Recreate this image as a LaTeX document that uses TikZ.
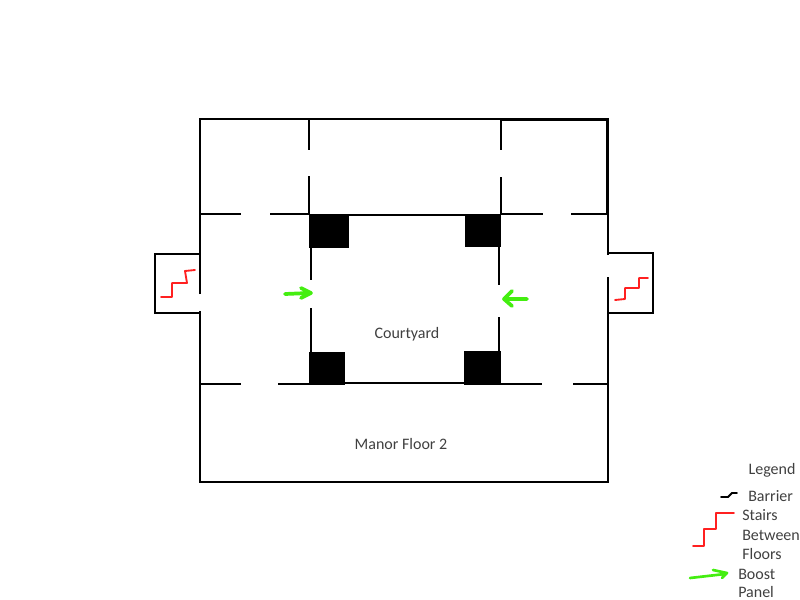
\documentclass[tikz,border=0pt]{standalone}
\usepackage{fontspec}
\setmainfont{Carlito}
\definecolor{txt}{HTML}{404040}
\definecolor{boost}{HTML}{44EE10}
\definecolor{stair}{HTML}{FF2020}
\tikzset{
  wall/.style={draw=black,line width=1.9pt,line cap=butt},
  thin wall/.style={draw=black,line width=1.7pt},
  pillar/.style={fill=black},
  stairs/.style={draw=stair,line width=1.4pt,line join=round,line cap=round},
  boostline/.style={draw=boost,line width=2.8pt,line join=round,line cap=round},
  label/.style={text=txt,font=\fontsize{12}{14}\selectfont,inner sep=0pt},
  lefttext/.style={label,anchor=west}
}
\begin{document}
\begin{tikzpicture}[x=0.75pt,y=-0.75pt]
\useasboundingbox (0,0) rectangle (800,600);
% pillars
\fill[pillar] (309,215) rectangle (349,248);
\fill[pillar] (465,215) rectangle (501,247);
\fill[pillar] (309,352) rectangle (345,385);
\fill[pillar] (464,351) rectangle (501,385);
% outer walls
\draw[wall] (200,294) -- (200,119) -- (608,119) -- (608,255);
\draw[wall] (501,120) -- (608,120);
\draw[wall] (607,120) -- (607,214);
\draw[wall] (608,277) -- (608,482) -- (200,482) -- (200,311);
% stair rooms
\draw[wall] (200,254) -- (155,254) -- (155,313) -- (200,313);
\draw[wall] (608,253) -- (653,253) -- (653,313) -- (608,313);
% inner walls
\draw[wall] (200,214) -- (241,214) (270,214) -- (310,214);
\draw[wall] (200,384) -- (241,384) (278,384) -- (310,384);
\draw[wall] (501,214) -- (543,214) (571,214) -- (608,214);
\draw[wall] (501,384) -- (542,384) (573,384) -- (608,384);
\draw[wall] (309,119) -- (309,150) (309,176) -- (309,214);
\draw[wall] (501,119) -- (501,150) (501,177) -- (501,214);
% courtyard
\draw[thin wall] (310,215) -- (501,215);
\draw[thin wall] (310,383) -- (501,383);
\draw[thin wall] (311,247) -- (311,280) (311,308) -- (311,352);
\draw[thin wall] (499,247) -- (499,285) (499,317) -- (499,352);
% stairs
\draw[stairs] (161,297) -- (172,297) -- (172,283) -- (187,283) -- (185,271) -- (195,270);
\draw[stairs] (615,300) -- (625,299) -- (625,288) -- (639,288) -- (639,278) -- (648,278);
% boost panels
\draw[boostline] (285,294) -- (309,293) (301,288) -- (311,293) -- (301,298);
\draw[boostline] (504,299) -- (527,299) (512,291) -- (504,299) -- (512,306);
\draw[boostline,line width=2pt] (690,578) -- (725,574) (713,570) -- (727,573) -- (722,578);
% legend symbols
\draw[draw=black,line width=1.4pt,line cap=round] (721,497) -- (728,497) -- (732,493) -- (737,493);
\draw[stairs] (693,546) -- (704,546) -- (704,529) -- (716,529) -- (716,513) -- (734,513);
% labels
\node[label] (courtyard) at (407,334) {Courtyard};
\node[label] (manor) at (401,444) {Manor Floor 2};
\node[label] (legend) at (772,470) {Legend};
\node[lefttext] (barrier) at (748,496) {Barrier};
\node[lefttext] (st) at (742,515) {Stairs};
\node[lefttext] (between) at (742,535) {Between};
\node[lefttext] (floors) at (742,554) {Floors};
\node[lefttext] (boosttext) at (738,574) {Boost};
\node[lefttext] (panel) at (738,592) {Panel};
\end{tikzpicture}
\end{document}
